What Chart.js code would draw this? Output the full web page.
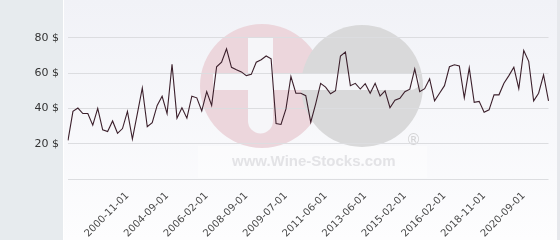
<!DOCTYPE html>
<html>
<head>
<meta charset="utf-8">
<script src="https://cdn.jsdelivr.net/npm/chart.js@4/dist/chart.umd.min.js"></script>
<style>
  html, body { margin: 0; padding: 0; background: #fff; }
  #wrap { width: 560px; height: 240px; position: relative; }
</style>
</head>
<body>
<div id="wrap"><canvas id="priceChart"></canvas></div>
<script>
// Prices ($), one per sample
const prices = [
  21.9, 38.3, 40.2, 37.1, 37.1, 30.5, 40.0, 27.9, 26.9, 32.9,
  25.9, 28.6, 38.3, 22.6, 37.0, 51.6, 29.6, 31.9, 41.7, 46.9,
  37.1, 65.0, 34.5, 40.4, 34.5, 46.9, 46.0, 38.6, 49.5, 41.7,
  63.6, 66.2, 73.8, 63.3, 61.9, 60.7, 58.6, 59.3, 66.2, 67.6,
  69.7, 68.1, 31.4, 30.9, 39.7, 58.1, 48.6, 48.6, 47.2, 32.2,
  42.6, 54.2, 52.1, 48.3, 50.0, 69.7, 71.9, 52.9, 54.2, 51.0,
  54.0, 48.6, 54.2, 47.0, 50.0, 40.4, 44.6, 45.7, 49.5, 50.9,
  62.4, 49.5, 51.2, 56.8, 44.3, 48.6, 52.9, 63.6, 64.7, 64.1,
  46.0, 63.0, 43.5, 44.0, 37.8, 39.2, 47.7, 47.7, 54.3, 58.6,
  63.3, 51.2, 72.8, 66.7, 44.3, 48.6, 59.0, 44.3
];

// Dates shown under the axis
const tickLabels = [
  '2000-11-01', '2004-09-01', '2006-02-01', '2008-09-01', '2009-07-01',
  '2011-06-01', '2013-06-01', '2015-02-01', '2016-02-01', '2018-11-01',
  '2020-09-01'
];

const yTicks = [0, 20, 40, 60, 80];

// labels sit on every 8th sample, starting at sample 12
const firstTick = 12;
const tickStep = 8;
const labels = prices.map((p, i) => {
  const j = (i - firstTick) / tickStep;
  return (Number.isInteger(j) && j >= 0 && j < tickLabels.length) ? tickLabels[j] : '';
});

// background panels + faint watermark
const backdrop = {
  id: 'backdrop',
  beforeDraw(chart) {
    const c = chart.ctx;
    c.save();
    c.fillStyle = '#e7ebee';
    c.fillRect(0, 0, 63, 240);
    const g = c.createLinearGradient(0, 0, 0, 240);
    g.addColorStop(0, '#f1f2f7');
    g.addColorStop(1, '#fdfdfe');
    c.fillStyle = g;
    c.fillRect(64, 0, 496, 240);
    c.fillStyle = '#ffffff';
    c.fillRect(63, 0, 1, 240);
    c.fillStyle = '#e6e8ec';
    c.fillRect(557, 0, 3, 240);

    // watermark
    c.fillStyle = 'rgba(255,255,255,0.4)';
    c.fillRect(198, 146, 229, 32);
    c.fillStyle = '#ecd6dc';
    c.beginPath(); c.arc(262, 86, 62, 0, Math.PI * 2); c.fill();
    c.fillStyle = '#d9d9da';
    c.beginPath(); c.arc(362, 86, 61, 0, Math.PI * 2); c.fill();
    c.fillStyle = '#f6f6f9';
    // horizontal band
    c.beginPath();
    c.moveTo(213, 73); c.lineTo(411, 73);
    c.arc(411, 81.5, 8.5, -Math.PI / 2, Math.PI / 2);
    c.lineTo(213, 90); c.closePath(); c.fill();
    // vertical bar
    c.beginPath();
    c.moveTo(248, 38); c.lineTo(273, 38); c.lineTo(273, 121);
    c.arc(260.5, 121, 12.5, 0, Math.PI);
    c.closePath(); c.fill();

    c.fillStyle = '#e3e3e6';
    c.font = 'bold 15px "Liberation Sans", Arial, sans-serif';
    c.textAlign = 'left';
    c.textBaseline = 'alphabetic';
    c.fillText('www.Wine-Stocks.com', 232, 166);
    c.font = '15px "DejaVu Sans", sans-serif';
    c.fillStyle = '#d4d4d6';
    c.fillText('®', 406, 145);
    c.restore();
  }
};

const ctx = document.getElementById('priceChart').getContext('2d');
const priceChart = new Chart(ctx, {
  type: 'line',
  data: {
    labels: labels,
    datasets: [{
      data: prices,
      borderColor: '#3b1f2b',
      borderWidth: 1.1,
      pointRadius: 0,
      tension: 0,
      fill: false
    }]
  },
  options: {
    responsive: true,
    maintainAspectRatio: false,
    animation: false,
    layout: { padding: { top: 0, right: 6, bottom: 0, left: 0 } },
    plugins: {
      legend: { display: false },
      tooltip: { enabled: false }
    },
    scales: {
      x: {
        grid: { display: false },
        border: { display: false },
        ticks: {
          autoSkip: false,
          maxRotation: 45,
          minRotation: 45,
          padding: 3,
          color: '#4a4a4a',
          font: { family: '"DejaVu Sans", sans-serif', size: 10 }
        },
        afterFit(scale) { scale.height = 61; }
      },
      y: {
        min: 0,
        max: 92.6,
        border: { display: false },
        grid: { color: '#dcdde0', drawTicks: false, lineWidth: 1 },
        afterBuildTicks(scale) {
          scale.ticks = yTicks.map(v => ({ value: v }));
        },
        ticks: {
          padding: 9,
          color: '#333',
          font: { family: '"DejaVu Sans", sans-serif', size: 11 },
          callback: v => v === 0 ? '' : v + ' $'
        },
        afterFit(scale) { scale.width = 68; }
      }
    }
  },
  plugins: [backdrop]
});
</script>
</body>
</html>
